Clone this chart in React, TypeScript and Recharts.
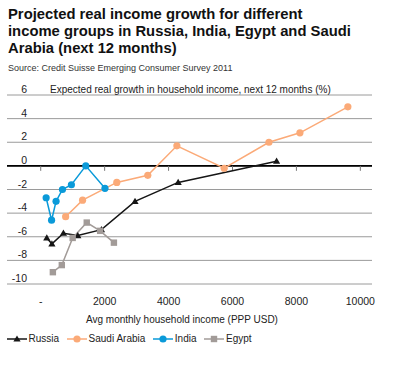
import { LineChart, Line, XAxis, YAxis, CartesianGrid, ReferenceLine } from 'recharts'

const russiaIncome = [190, 350, 710, 1160, 1900, 2950, 4300, 7380]
const russiaGrowth = [-6.1, -6.6, -5.7, -5.9, -5.4, -3.0, -1.4, 0.4]

const saudiIncome = [780, 1310, 2380, 3350, 4260, 5740, 7140, 8110, 9610]
const saudiGrowth = [-4.3, -2.9, -1.4, -0.8, 1.7, -0.2, 2.0, 2.8, 5.0]

const indiaIncome = [170, 340, 480, 680, 960, 1410, 2010]
const indiaGrowth = [-2.7, -4.6, -3.0, -2.0, -1.6, 0, -1.9]

const egyptIncome = [380, 660, 1000, 1440, 1860, 2290]
const egyptGrowth = [-9.0, -8.4, -6.1, -4.8, -5.5, -6.5]

const xTicks = [0, 2000, 4000, 6000, 8000, 10000]
const yTicks = [-10, -8, -6, -4, -2, 0, 2, 4, 6]

const RUSSIA = '#161616'
const SAUDI = '#FBAA78'
const INDIA = '#0A9AD9'
const EGYPT = '#A29B98'

const FONT = '"Liberation Sans", Arial, Helvetica, sans-serif'

function toPoints(xs: number[], ys: number[]) {
  return xs.map((x, i) => ({ income: x, growth: ys[i] }))
}

const series = [
  { name: 'Russia', color: RUSSIA, marker: 'triangle', data: toPoints(russiaIncome, russiaGrowth) },
  { name: 'Saudi Arabia', color: SAUDI, marker: 'circle', data: toPoints(saudiIncome, saudiGrowth) },
  { name: 'India', color: INDIA, marker: 'circle', data: toPoints(indiaIncome, indiaGrowth) },
  { name: 'Egypt', color: EGYPT, marker: 'square', data: toPoints(egyptIncome, egyptGrowth) },
]

function Marker({ cx, cy, color, marker }: { cx: number; cy: number; color: string; marker: string }) {
  if (marker === 'triangle') {
    return <path d={`M${cx},${cy - 3.6}L${cx + 3.6},${cy + 2.6}L${cx - 3.6},${cy + 2.6}Z`} fill={color} />
  }
  if (marker === 'square') {
    return <rect x={cx - 3.2} y={cy - 3.2} width={6.4} height={6.4} fill={color} />
  }
  return <circle cx={cx} cy={cy} r={3.6} fill={color} />
}

function XTick(props: any) {
  const { x, y, payload } = props
  return (
    <text x={x} y={y + 21} textAnchor="middle" fontSize={10.5} fill="#222" fontFamily={FONT}>
      {payload.value === 0 ? '-' : payload.value}
    </text>
  )
}

function YTick(props: any) {
  const { x, y, payload } = props
  return (
    <text x={x + 20} y={y - 2} textAnchor="end" fontSize={10.5} fill="#222" fontFamily={FONT}>
      {payload.value}
    </text>
  )
}

export default function App() {
  return (
    <div style={{ position: 'absolute', left: 0, top: 0, width: 405, height: 369, background: '#fff', fontFamily: FONT }}>
      <div style={{ position: 'absolute', left: 8, top: 6, fontSize: 14.8, lineHeight: '17px', fontWeight: 700, color: '#111' }}>
        <div>Projected real income growth for different</div>
        <div>income groups in Russia, India, Egypt and Saudi</div>
        <div>Arabia (next 12 months)</div>
      </div>
      <div style={{ position: 'absolute', left: 8, top: 63, fontSize: 9, color: '#333', whiteSpace: 'nowrap' }}>
        Source: Credit Suisse Emerging Consumer Survey 2011
      </div>

      <div style={{ position: 'absolute', left: 0, top: 0 }}>
        <LineChart width={405} height={369} margin={{ top: 95, right: 33, left: -20, bottom: 55 }}>
          <CartesianGrid vertical={false} stroke="#9a9a9a" strokeWidth={1} />
          <XAxis
            dataKey="income"
            type="number"
            domain={[-1055, 10365]}
            ticks={xTicks}
            allowDataOverflow
            axisLine={false}
            tickLine={false}
            tickSize={0}
            tickMargin={0}
            height={30}
            tick={<XTick />}
          />
          <YAxis
            dataKey="growth"
            type="number"
            domain={[-10, 6]}
            ticks={yTicks}
            width={27}
            axisLine={false}
            tickLine={false}
            tickSize={0}
            tickMargin={0}
            tick={<YTick />}
          />
          <ReferenceLine y={0} stroke="#000" strokeWidth={1.6} />
          {xTicks.map((t) => (
            <ReferenceLine
              key={t}
              segment={[{ x: t, y: 0 }, { x: t, y: -0.42 }]}
              stroke="#777"
              strokeWidth={1}
            />
          ))}
          {series.map((s) => (
            <Line
              key={s.name}
              data={s.data}
              dataKey="growth"
              name={s.name}
              stroke={s.color}
              strokeWidth={1.5}
              isAnimationActive={false}
              dot={(p: any) => <Marker key={`${s.name}-${p.index}`} cx={p.cx} cy={p.cy} color={s.color} marker={s.marker} />}
              activeDot={false}
            />
          ))}
        </LineChart>
      </div>

      <div style={{ position: 'absolute', left: 50, top: 84, fontSize: 10, color: '#222', whiteSpace: 'nowrap' }}>
        Expected real growth in household income, next 12 months (%)
      </div>
      <div style={{ position: 'absolute', left: 86, top: 314, fontSize: 10, color: '#222', whiteSpace: 'nowrap' }}>
        Avg monthly household income (PPP USD)
      </div>

      <div style={{ position: 'absolute', left: 7, top: 333, display: 'flex', alignItems: 'center', fontSize: 10, color: '#222', whiteSpace: 'nowrap' }}>
        {series.map((s) => (
          <div key={s.name} style={{ display: 'flex', alignItems: 'center', marginRight: 8 }}>
            <svg width={20} height={10} style={{ marginRight: 1.5 }}>
              <line x1={0} y1={5} x2={20} y2={5} stroke={s.color} strokeWidth={1.5} />
              <Marker cx={10} cy={5} color={s.color} marker={s.marker} />
            </svg>
            <span>{s.name}</span>
          </div>
        ))}
      </div>
    </div>
  )
}
